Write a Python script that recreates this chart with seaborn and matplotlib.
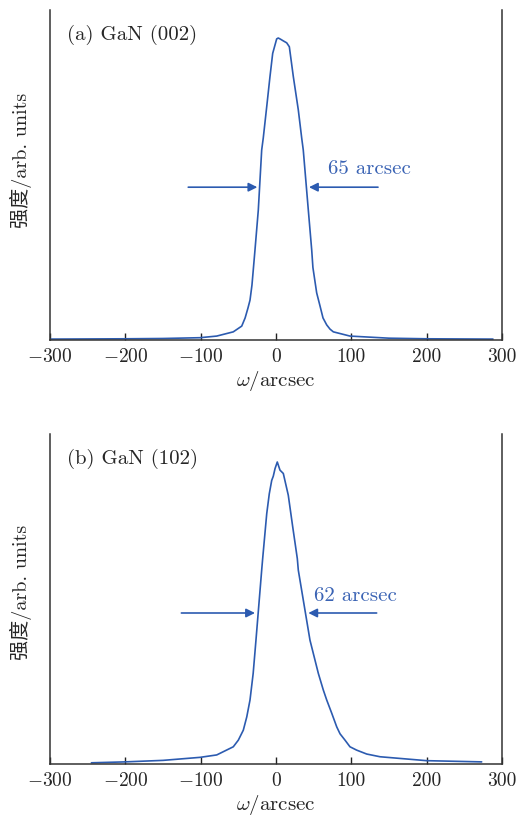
import numpy as np
import pandas as pd
import matplotlib
matplotlib.use("Agg")
import matplotlib.pyplot as plt
import seaborn as sns

# ---- data ----
omega_a = [-300, -200, -150, -100.9, -78.7, -56.7, -45.5, -41.0, -37.2, -34.5, -31.9, -27.9,
           -23.5, -19.0, -16.9, -12.3, -8.0, -4.4, 0.9, 3.0, 6.0, 10.0, 14.2, 17.7, 23.0,
           29.6, 34.1, 36.2, 42.9, 47.4, 49.0, 54.0, 58.4, 62.4, 67.3, 71.7, 76.1, 98.2,
           150, 200, 288]
inten_a = [0.003, 0.004, 0.005, 0.0076, 0.013, 0.027, 0.046, 0.073, 0.106, 0.132, 0.182, 0.298,
           0.430, 0.629, 0.669, 0.773, 0.872, 0.949, 0.997, 1.0, 0.996, 0.99, 0.984, 0.971, 0.872,
           0.762, 0.669, 0.629, 0.430, 0.298, 0.24, 0.156, 0.113, 0.073, 0.050, 0.036, 0.027, 0.013,
           0.006, 0.004, 0.003]

omega_b = [-245.0, -200.5, -150, -100.9, -78.7, -56.7, -50.0, -43.4, -38.8, -34.5, -30.3,
           -26.6, -19.0, -17.7, -12.3, -8.9, -5.7, -3.6, -1.3, 1.7, 5.3, 9.7, 16.3, 22.2,
           28.3, 29.6, 45.1, 56.2, 62.8, 67.3, 74.0, 80.6, 85.0, 91.6, 98.2, 107.0, 120.4,
           138.1, 200, 273]
inten_b = [0.004, 0.007, 0.012, 0.022, 0.030, 0.057, 0.079, 0.112, 0.156, 0.212, 0.300,
           0.410, 0.642, 0.680, 0.829, 0.895, 0.939, 0.953, 0.978, 1.0, 0.973, 0.962, 0.890, 0.785,
           0.680, 0.642, 0.410, 0.300, 0.245, 0.212, 0.168, 0.123, 0.100, 0.079, 0.057, 0.046, 0.033,
           0.024, 0.011, 0.007]

panel_titles = ["(a) GaN (002)", "(b) GaN (102)"]
fwhm_labels = ["65 arcsec", "62 arcsec"]
# arrows: (left tail, left tip, right tip, right tail, level), text position
arrows = [(-116.5, -24.8, 43.8, 135.4, 0.506), (-125.6, -27.9, 42.9, 133.6, 0.500)]
text_pos = [(69, 0.565), (50.5, 0.556)]

xticks = [-300, -200, -100, 0, 100, 200, 300]
xticklabels = [r"$-300$", r"$-200$", r"$-100$", "0", "100", "200", "300"]

# ---- style ----
sns.set_style("ticks")
plt.rcParams["font.family"] = ["cmr10", "Noto Sans CJK SC"]
plt.rcParams["mathtext.fontset"] = "cm"
plt.rcParams["axes.formatter.use_mathtext"] = True
plt.rcParams["axes.unicode_minus"] = False

blue = "#2c5bb0"
tblue = "#3a63b4"

fig = plt.figure(figsize=(5.25, 8.16), dpi=100)
W, H = 525, 816
boxes = [(50, 10, 502, 340), (50, 434, 502, 764)]
ylab_y = [0.545, 0.52]

data = [pd.DataFrame({"omega": omega_a, "I": inten_a}),
        pd.DataFrame({"omega": omega_b, "I": inten_b})]

for i, (x0, y0, x1, y1) in enumerate(boxes):
    ax = fig.add_axes([x0 / W, 1 - y1 / H, (x1 - x0) / W, (y1 - y0) / H])
    sns.lineplot(data=data[i], x="omega", y="I", ax=ax, color=blue, lw=1.2, sort=False)
    ax.set_xlim(-300, 300)
    ax.set_ylim(0, 330 / 302)
    ax.set_yticks([])
    ax.set_xticks(xticks)
    ax.set_xticklabels(xticklabels)
    ax.tick_params(axis="x", direction="in", length=5, width=1.0, labelsize=14, pad=6,
                   color="#222222")
    for s in ["left", "right", "bottom"]:
        ax.spines[s].set_linewidth(1.1)
        ax.spines[s].set_color("#333333")
    ax.spines["top"].set_visible(False)
    ax.set_xlabel(r"$\omega$/arcsec", fontsize=15, labelpad=2)
    ax.set_ylabel("强度/arb. units", fontsize=14.5)
    ax.yaxis.set_label_coords(-0.04, ylab_y[i])
    ax.text(0.038, 0.955, panel_titles[i], transform=ax.transAxes,
            fontsize=15, va="top", ha="left")
    lt, ltip, rtip, rt, lev = arrows[i]
    ap = dict(arrowstyle="-|>", color=blue, lw=1.2, mutation_scale=13,
              shrinkA=0, shrinkB=0)
    ax.annotate("", xy=(ltip, lev), xytext=(lt, lev), arrowprops=ap)
    ax.annotate("", xy=(rtip, lev), xytext=(rt, lev), arrowprops=ap)
    ax.text(text_pos[i][0], text_pos[i][1], fwhm_labels[i], color=tblue, fontsize=15,
            ha="left", va="center")

fig.savefig("out.png", dpi=100)
